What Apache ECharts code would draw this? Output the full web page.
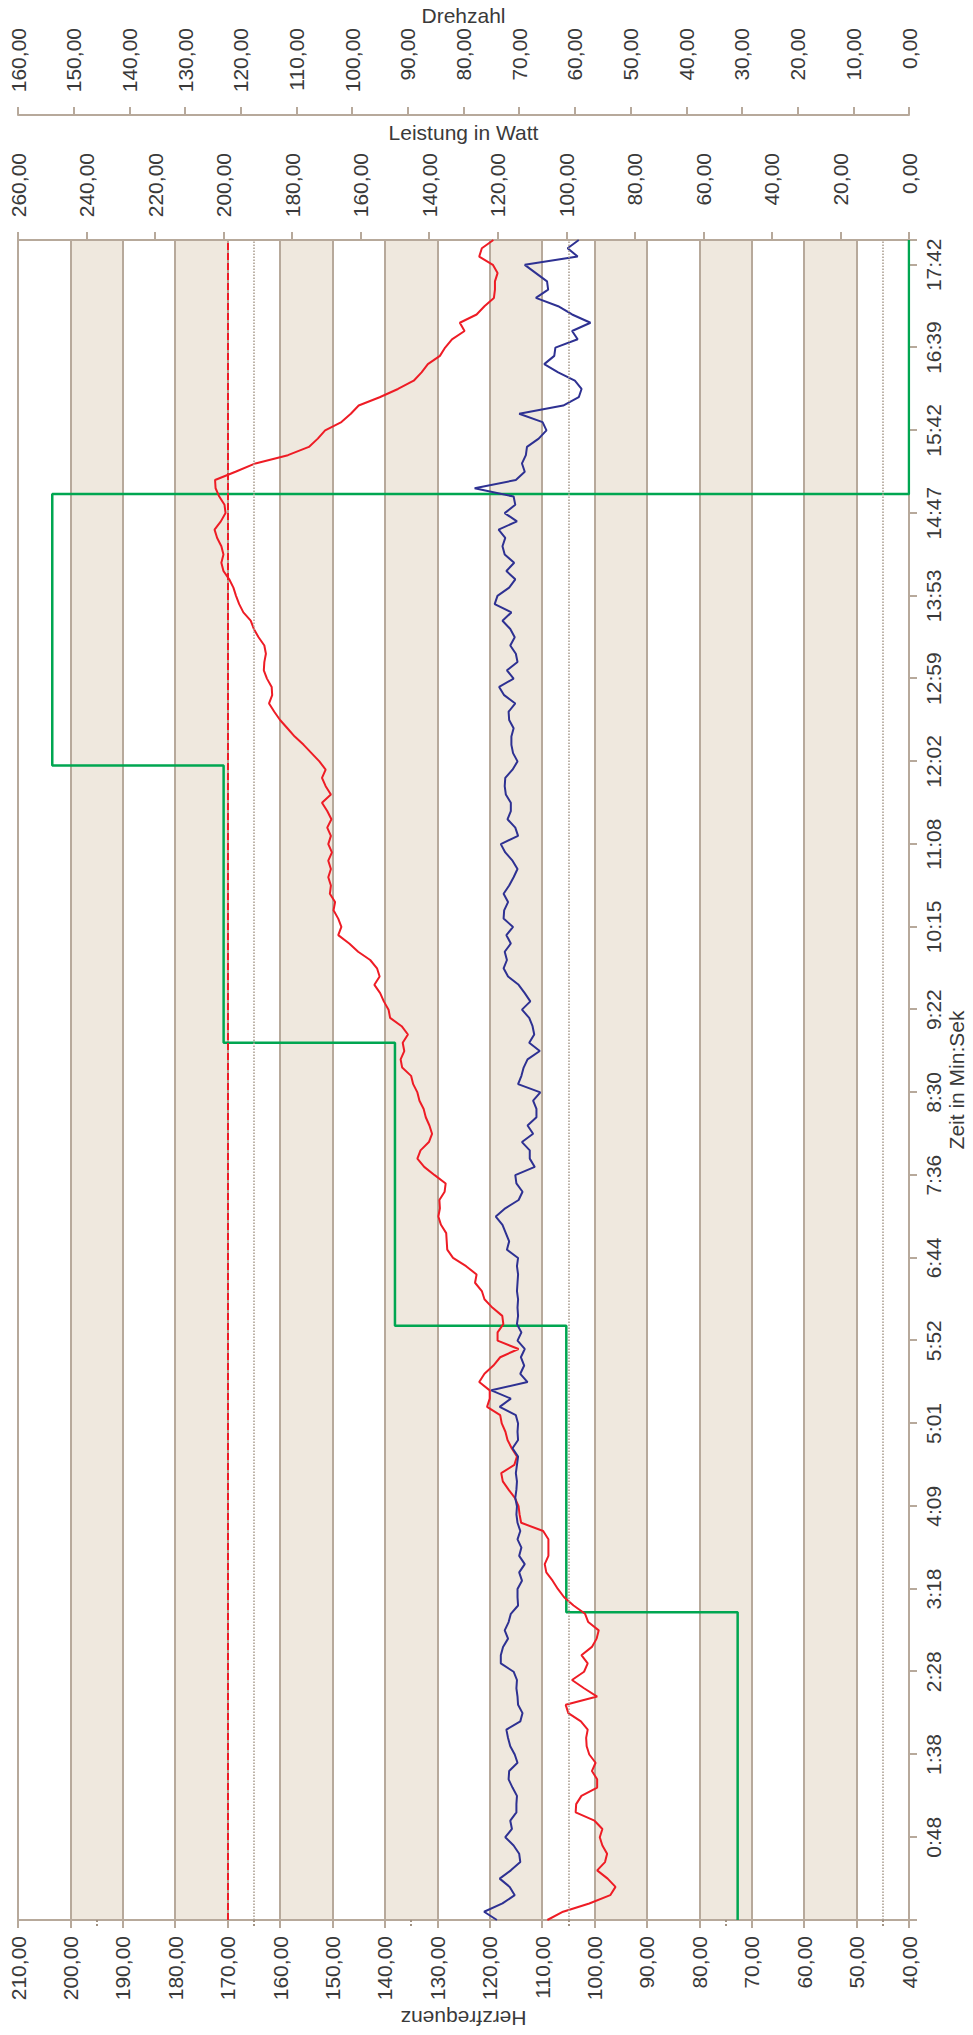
<!DOCTYPE html>
<html>
<head>
<meta charset="utf-8">
<script src="https://cdn.jsdelivr.net/npm/echarts@6/dist/echarts.min.js"></script>
<style>
html,body{margin:0;padding:0;background:#fff;overflow:hidden;width:973px;height:2035px;}
#rot{position:absolute;left:0;top:0;width:2035px;height:973px;transform-origin:0 0;transform:translateY(2035px) rotate(-90deg);}
#chart{width:2035px;height:973px;}
</style>
</head>
<body>
<div id="rot"><div id="chart"></div></div>
<script>
// Time tick labels (Min:Sek), one every 10 samples
const timeLabels = ['0:48','1:38','2:28','3:18','4:09','5:01','5:52','6:44','7:36','8:30','9:22','10:15','11:08','12:02','12:59','13:53','14:47','15:42','16:39','17:42'];
const samplesPerLabel = 10;

// Herzfrequenz (red), one value per sample
const heartRate = [
 109,106,101,97,96,97.5,99.5,98,97.6,98.5,
 99,98.5,100,103.6,103.5,102.5,99.5,99.5,100.5,99.8,
 101,101.5,101.6,101.3,102.6,105,105.5,99.5,102,104.3,
 102,101.3,102.5,100.5,99.6,99.2,101.2,101.8,104,105.8,
 107,108,109.2,109.5,108.8,108.8,108.8,109.8,114,114.3,
 114.5,115.2,116.4,117.5,117.8,115.3,114.8,115.8,116.6,117,
 117.7,118,120.5,120,120,122,121,119.3,118,114.5,
 118.5,118.5,117.4,117.6,119.5,121,121.5,122.8,122.5,124.5,
 127,128.1,128.2,128.3,129.3,129.8,129.5,129.6,128.6,128.4,
 130.5,132.5,133.8,133.2,131.6,131,131.5,132.2,132.6,133.4,
 133.8,134.6,135,136.7,137,136.3,136.6,135.6,136.8,139,
 139.3,140.2,140.9,142,141,141.5,142.8,145.1,146.8,148.9,
 148.3,148.9,149.8,149.5,150.5,150.3,150.8,150.3,150.8,150.1,
 150.8,150.3,151,150.2,151,152,150.3,151.3,152,151.3,
 152.5,154,155.5,157.2,158.6,160,161.1,162.1,161.5,161.6,
 162.5,163.1,163,162.7,163,164.1,165,165.6,167,167.8,
 168.4,168.9,169.7,170.8,171.2,170.8,171.2,172,172.5,171.3,
 170.4,170.6,171.6,172.3,172.4,168.5,164.7,158.5,154.5,152.8,
 151.4,148.3,146.5,145,141,137.5,134.5,133,131.8,129.5,
 128.5,127.2,124.8,125.7,122.5,121,119.2,119,119,118.5,
 119.4,122,121.5,119.3
];

// Drehzahl (blue), one value per sample
const cadence = [
 74,76.3,73,70.8,71.7,73.5,71.5,69.8,70,71,
 72.5,71.3,71.6,70.5,70.5,70.4,71.2,71.9,71.8,70.3,
 70.8,71.6,72,72.3,69.8,69.4,70.2,70.3,70.5,70.4,
 71,73.3,73.3,72.9,72,72.6,71.9,71.5,70.2,70.3,
 70.3,69.5,70,69,70,69.6,70.3,69.8,70.3,70.5,
 70.4,70.7,70.5,70.4,70.6,70.4,70.2,71.2,70.2,70.3,
 70.2,70.6,73.5,71.5,75,68.5,69.8,69.1,69.7,69,
 70.3,69.6,70.4,70.2,70.3,70.2,70.4,70.3,70.2,70.4,
 70.2,72.2,71.8,72.4,73,74.2,72.5,70.1,69.4,70.5,
 70.7,67.2,68.1,68.1,69.5,67.5,68.5,66.9,66.9,67.5,
 66.2,70.2,69.6,69.2,68.5,66.3,68.2,67.3,67.6,68.2,
 69.5,68,69,70.1,72,72.8,72.2,72.6,71.5,72.3,
 71.1,72.8,72.7,72,72.8,71.8,71,70.3,71.2,72.5,
 73.3,70.2,70.7,72.1,71.5,71.5,72.4,72.6,72.5,71.2,
 70.3,71.1,71.4,71.4,71,71.8,71.9,70.7,72.7,73.6,
 71,72.2,70.3,70.6,71.6,70.8,71.6,73,71.4,74.4,
 73.9,71.8,70.7,72.3,70.9,72.6,73,72.5,73.7,70.4,
 72.6,70.7,71,78,70.6,69,69.5,68.8,68.6,66.5,
 65.1,65.8,70,62.1,59.3,58.8,60,63,65.5,63.7,
 63.5,59.5,60.5,57.2,60.5,63,67,64.8,65,67,
 69,59.5,61.3,59.3
];

// Leistung in Watt (green step line): [sample position, watts]
const powerSteps = [[0,50],[37.2,100],[71.8,150],[106,200],[139.5,250],[172.3,0],[203,0]];

// Reference lines / ticks on the Herzfrequenz axis
const hrMaxLine = 170;
const hrDottedLines = [165,105,45];
const hrZoneTicks = [45,75,105,135,165,195];

const FONT = '"Liberation Sans", Arial, sans-serif';
const GRIDC = '#b7a99b';
const TXT = '#3a3a3a';
const fmt2 = v => v.toFixed(2).replace('.', ',');
const txtStyle = {fontSize:21, color:TXT, fontFamily:FONT};

const chart = echarts.init(document.getElementById('chart'), null, {renderer:'svg', width:2035, height:973});
chart.setOption({
  animation:false,
  backgroundColor:'#ffffff',
  grid:{left:115, right:240, top:18, bottom:64, show:false, containLabel:false, outerBoundsMode:'none'},
  xAxis:{
    type:'value', min:0, max:heartRate.length-1, interval:samplesPerLabel,
    axisLine:{show:true, onZero:false, lineStyle:{color:GRIDC, width:2}},
    axisTick:{show:true, length:8, lineStyle:{color:GRIDC, width:2}},
    axisLabel:Object.assign({margin:14, formatter:v => (v>0 && v % samplesPerLabel === 0) ? (timeLabels[v/samplesPerLabel-1] || '') : ''}, txtStyle),
    splitLine:{show:false},
    name:'Zeit in Min:Sek', nameLocation:'middle', nameGap:37, nameMoveOverlap:false, nameTextStyle:txtStyle
  },
  yAxis:[
    {
      type:'value', position:'left', min:40, max:210, interval:10,
      axisLine:{show:true, lineStyle:{color:GRIDC, width:2}},
      axisTick:{show:true, length:8, lineStyle:{color:GRIDC, width:2}},
      axisLabel:Object.assign({margin:16, formatter:fmt2}, txtStyle),
      splitLine:{show:true, lineStyle:{color:GRIDC, width:2}},
      splitArea:{show:true, areaStyle:{color:['#ffffff','#efe8de']}},
      name:'Herzfrequenz', nameLocation:'middle', nameGap:88, nameMoveOverlap:false, nameTextStyle:txtStyle
    },
    {
      type:'value', position:'right', min:0, max:260, interval:20,
      axisLine:{show:true, lineStyle:{color:GRIDC, width:2}},
      axisTick:{show:true, length:8, lineStyle:{color:GRIDC, width:2}},
      axisLabel:Object.assign({margin:87, align:'right', formatter:fmt2}, txtStyle),
      splitLine:{show:false},
      name:'Leistung in Watt', nameLocation:'middle', nameRotate:-90, nameGap:97, nameMoveOverlap:false, nameTextStyle:txtStyle
    },
    {
      type:'value', position:'right', offset:125, min:0, max:160, interval:10,
      axisLine:{show:true, lineStyle:{color:GRIDC, width:2}},
      axisTick:{show:true, length:8, lineStyle:{color:GRIDC, width:2}},
      axisLabel:Object.assign({margin:87, align:'right', formatter:fmt2}, txtStyle),
      splitLine:{show:false},
      name:'Drehzahl', nameLocation:'middle', nameRotate:-90, nameGap:89, nameMoveOverlap:false, nameTextStyle:txtStyle
    },
    {
      type:'value', position:'left', min:40, max:210,
      axisLine:{show:false},
      axisLabel:{show:false},
      splitLine:{show:false},
      axisTick:{show:true, customValues:hrZoneTicks, length:8, lineStyle:{color:'#a09080', width:2, type:'dotted'}}
    }
  ],
  series:[
    {
      name:'Leistung', type:'line', yAxisIndex:1, step:'end', showSymbol:false,
      data:powerSteps,
      lineStyle:{color:'#00a651', width:2.5}, itemStyle:{color:'#00a651'}, z:2
    },
    {
      name:'Herzfrequenz', type:'line', yAxisIndex:0, showSymbol:false,
      data:heartRate.map((v,i) => [i, v]),
      lineStyle:{color:'#ee1c25', width:2}, itemStyle:{color:'#ee1c25'}, z:3,
      markLine:{
        silent:true, symbol:'none', label:{show:false},
        data:[{yAxis:hrMaxLine, lineStyle:{color:'#ee1c25', type:[7,3], width:2}}]
          .concat(hrDottedLines.map(v => ({yAxis:v, lineStyle:{color:'#a89a8c', type:'dotted', width:1.5}})))
      }
    },
    {
      name:'Drehzahl', type:'line', yAxisIndex:2, showSymbol:false,
      data:cadence.map((v,i) => [i, v]),
      lineStyle:{color:'#2e3192', width:2}, itemStyle:{color:'#2e3192'}, z:4
    }
  ]
});
</script>
</body>
</html>
